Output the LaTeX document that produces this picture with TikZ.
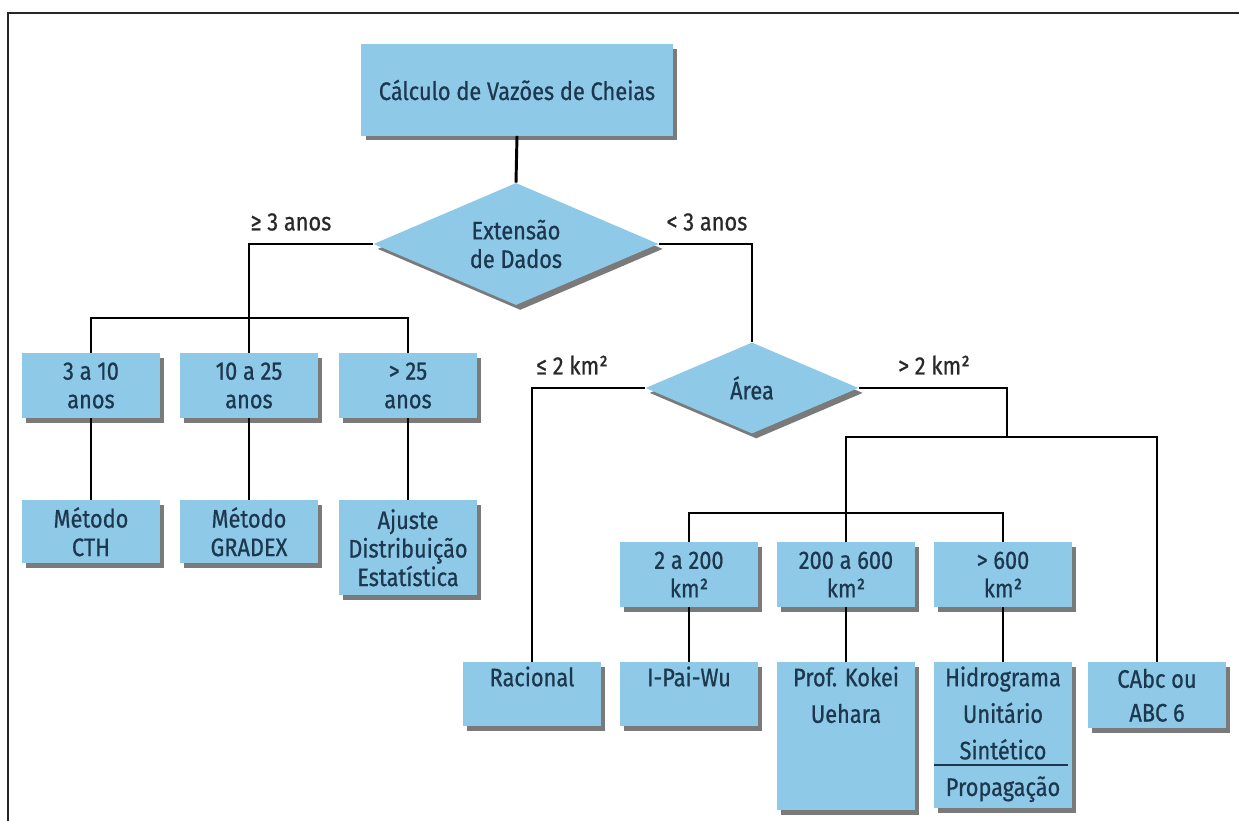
\documentclass[tikz,border=0pt]{standalone}
\usepackage{fontspec}
\setmainfont{Fira Sans}[FakeStretch=0.86, FakeBold=0.7]
\usetikzlibrary{shapes.geometric,shadows}

\definecolor{boxblue}{RGB}{142,202,232}
\definecolor{txtblue}{RGB}{28,55,78}
\definecolor{lbltxt}{RGB}{40,40,40}

\tikzset{
  shade box/.style={drop shadow={shadow xshift=3pt, shadow yshift=-3.5pt, fill=black!80, opacity=0.65}},
  box/.style={rectangle, fill=boxblue, text=txtblue, inner sep=2pt, align=center, minimum width=3.45cm, shade box},
  decision/.style={diamond, aspect=2.3, fill=boxblue, text=txtblue, inner sep=0pt, align=center, shade box},
  toplbl/.style={anchor=north, inner sep=3pt, align=center, text=txtblue, font=\fontsize{18}{26}\selectfont},
  link/.style={line width=2.1pt, black},
  cond/.style={text=lbltxt},
  frame/.style={line width=0.9pt, black!85},
}

\begin{document}
\begin{tikzpicture}[x=0.025cm, y=-0.025cm, font=\fontsize{18}{20.3}\selectfont]
  \useasboundingbox (0,0) rectangle (1239,821);
  \draw[frame] (8,821) -- (8,13) -- (1239,13);

  % top and decisions
  \node[box, minimum width=7.775cm, minimum height=2.275cm] (top) at (517,90) {Cálculo de Vazões de Cheias};
  \node[decision, minimum width=7.125cm, minimum height=3.05cm] (ext) at (516,244) {Extensão\\de Dados};
  \node[decision, minimum width=5.325cm, minimum height=2.275cm] (area) at (752,388) {Área};

  % left branch
  \node[box, minimum height=1.625cm] (r1a) at (91,385.5) {3 a 10\\anos};
  \node[box, minimum height=1.625cm] (r1b) at (249,385.5) {10 a 25\\anos};
  \node[box, minimum height=1.625cm] (r1c) at (408,385.5) {> 25\\anos};
  \node[box, anchor=north, minimum height=1.575cm] (m1) at (91,500) {Método\\CTH};
  \node[box, anchor=north, minimum height=1.575cm] (m2) at (249,500) {Método\\GRADEX};
  \node[box, anchor=north, minimum height=2.375cm] (m3) at (408,500) {Ajuste\\Distribuição\\Estatística};

  % right branch
  \node[box, minimum height=1.625cm] (r2a) at (689,574.5) {2 a 200\\km²};
  \node[box, minimum height=1.625cm] (r2b) at (846,574.5) {200 a 600\\km²};
  \node[box, minimum height=1.625cm] (r2c) at (1003,574.5) {> 600\\km²};
  \node[box, anchor=north, minimum height=1.6cm, label={[toplbl]north:Racional}] (rac) at (532,662) {};
  \node[box, anchor=north, minimum height=1.6cm, label={[toplbl]north:I-Pai-Wu}] (ipai) at (689,662) {};
  \node[box, anchor=north, minimum height=3.7cm, label={[toplbl]north:{Prof. Kokei\\Uehara}}] (prof) at (846,662) {};
  \node[box, anchor=north, minimum height=3.65cm, label={[toplbl]north:{Hidrograma\\Unitário\\Sintético\\Propagação}}] (hidro) at (1003,662) {};
  \node[box, anchor=north, minimum height=1.65cm, font=\fontsize{18}{24}\selectfont] (cabc) at (1157,662) {CAbc ou\\ABC 6};
  \draw[line width=1pt, txtblue] (hidro.west |- 0,765) -- ([xshift=-3pt]hidro.east |- 0,765);

  % conditions
  \node[cond] (ge3) at (291,222) {≥ 3 anos};
  \node[cond] (lt3) at (707,222) {< 3 anos};
  \node[cond] (le2) at (572,365) {≤ 2 km²};
  \node[cond] (gt2) at (934,365) {> 2 km²};

  % connectors
  \coordinate (jl) at (249,318);
  \coordinate (jr) at (1007,437);
  \coordinate (jr2) at (846,513);
  \draw[link] (top.south) -- (ext.north);
  \draw[link] (ext.west) -| (r1b.north);
  \draw[link] (r1a.north) |- (jl) -| (r1c.north);
  \draw[link] (r1a.south) -- (m1.north);
  \draw[link] (r1b.south) -- (m2.north);
  \draw[link] (r1c.south) -- (m3.north);
  \draw[link] (ext.east) -| (area.north);
  \draw[link] (area.west) -| (rac.north);
  \draw[link] (area.east) -| (jr);
  \draw[link] (r2b.north) |- (jr) -| (cabc.north);
  \draw[link] (r2a.north) |- (jr2) -| (r2c.north);
  \draw[link] (r2a.south) -- (ipai.north);
  \draw[link] (r2b.south) -- (prof.north);
  \draw[link] (r2c.south) -- (hidro.north);
\end{tikzpicture}
\end{document}
